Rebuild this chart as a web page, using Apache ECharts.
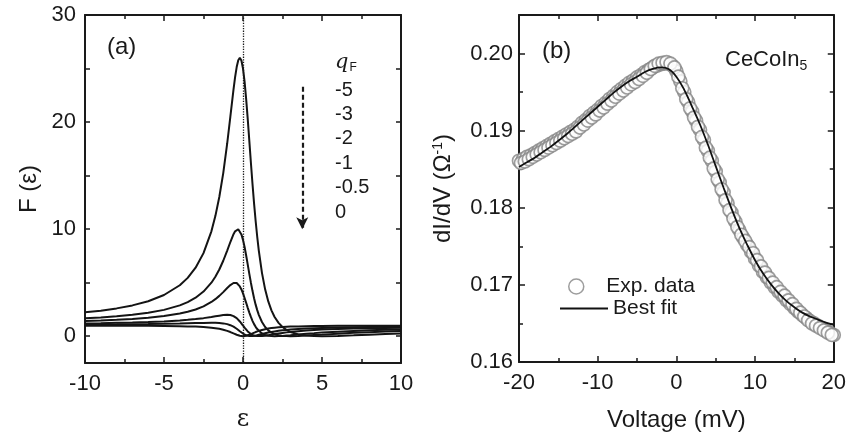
<!DOCTYPE html>
<html>
<head>
<meta charset="utf-8">
<script src="https://cdn.jsdelivr.net/npm/echarts@6/dist/echarts.min.js"></script>
<style>
    html, body { margin: 0; padding: 0; background: #fff; }
    #main { width: 849px; height: 437px; }
</style>
</head>
<body>
<div id="main"></div>
<script>
// (a) Fano line shapes F(eps) for several q_F
let epsValues = [-10, -9, -8, -7, -6, -5, -4, -3.5, -3, -2.5, -2, -1.75, -1.5, -1.25, -1, -0.8, -0.6, -0.5, -0.4,
    -0.3, -0.2, -0.1, 0, 0.1, 0.2, 0.3, 0.4, 0.5, 0.6, 0.7, 0.8, 0.9, 1, 1.2, 1.4, 1.6, 1.8, 2, 2.25, 2.5, 2.75,
    3, 3.5, 4, 4.5, 5, 6, 7, 8, 9, 10];
let qValues = ["-5", "-3", "-2", "-1", "-0.5", "0"];
let fanoQm5 = [2.23, 2.39, 2.6, 2.88, 3.27, 3.85, 4.76, 5.45, 6.4, 7.76, 9.8, 11.22, 13.0, 15.24, 18, 20.51, 23.06,
    24.2, 25.14, 25.77, 26.0, 25.75, 25, 23.77, 22.15, 20.27, 18.24, 16.2, 14.24, 12.41, 10.76, 9.29, 8, 5.92, 4.38,
    3.25, 2.42, 1.8, 1.25, 0.86, 0.59, 0.4, 0.17, 0.06, 0.01, 0, 0.03, 0.08, 0.14, 0.2, 0.25];
let fanoQm3 = [1.67, 1.76, 1.86, 2.0, 2.19, 2.46, 2.88, 3.19, 3.6, 4.17, 5, 5.55, 6.23, 7.05, 8, 8.8, 9.53,
    9.8, 9.97, 9.99, 9.85, 9.51, 9, 8.33, 7.54, 6.69, 5.83, 5, 4.24, 3.55, 2.95, 2.44, 2, 1.33, 0.86,
    0.55, 0.34, 0.2, 0.09, 0.03, 0.01, 0, 0.02, 0.06, 0.11, 0.15, 0.24, 0.32, 0.38, 0.44, 0.49];
let fanoQm2 = [1.43, 1.48, 1.54, 1.62, 1.73, 1.88, 2.12, 2.28, 2.5, 2.79, 3.2, 3.46, 3.77, 4.12, 4.5, 4.78, 4.97,
    5, 4.97, 4.85, 4.65, 4.37, 4, 3.57, 3.12, 2.65, 2.21, 1.8, 1.44, 1.13, 0.88, 0.67, 0.5, 0.26, 0.12,
    0.04, 0.01, 0, 0.01, 0.03, 0.07, 0.1, 0.17, 0.24, 0.29, 0.35, 0.43, 0.5, 0.55, 0.6, 0.63];
let fanoQm1 = [1.2, 1.22, 1.25, 1.28, 1.32, 1.38, 1.47, 1.53, 1.6, 1.69, 1.8, 1.86, 1.92, 1.98, 2, 1.98, 1.88,
    1.8, 1.69, 1.55, 1.38, 1.2, 1, 0.8, 0.62, 0.45, 0.31, 0.2, 0.12, 0.06, 0.02, 0.01, 0, 0.02, 0.05,
    0.1, 0.15, 0.2, 0.26, 0.31, 0.36, 0.4, 0.47, 0.53, 0.58, 0.62, 0.68, 0.72, 0.75, 0.78, 0.8];
let fanoQm05 = [1.09, 1.1, 1.11, 1.13, 1.14, 1.16, 1.19, 1.21, 1.23, 1.24, 1.25, 1.25, 1.23, 1.2, 1.13, 1.03, 0.89,
    0.8, 0.7, 0.59, 0.47, 0.36, 0.25, 0.16, 0.09, 0.04, 0.01, 0, 0.01, 0.03, 0.05, 0.09, 0.13, 0.2, 0.27,
    0.34, 0.4, 0.45, 0.51, 0.55, 0.59, 0.63, 0.68, 0.72, 0.75, 0.78, 0.82, 0.85, 0.87, 0.88, 0.89];
let fanoQ0 = [0.99, 0.99, 0.98, 0.98, 0.97, 0.96, 0.94, 0.92, 0.9, 0.86, 0.8, 0.75, 0.69, 0.61, 0.5, 0.39, 0.26,
    0.2, 0.14, 0.08, 0.04, 0.01, 0, 0.01, 0.04, 0.08, 0.14, 0.2, 0.26, 0.33, 0.39, 0.45, 0.5, 0.59, 0.66,
    0.72, 0.76, 0.8, 0.84, 0.86, 0.88, 0.9, 0.92, 0.94, 0.95, 0.96, 0.97, 0.98, 0.98, 0.99, 0.99];
let fanoTicks = [0, 5, 10, 15, 20, 25, 30];
let fanoLabels = [0, 10, 20, 30];

// (b) CeCoIn5 conductance, measured (two sweeps) and fitted
let fitVoltage = [-20, -19, -18, -17, -16, -15, -14, -13, -12, -11, -10, -9, -8, -7, -6, -5, -4, -3, -2, -1, 0,
    1, 2, 3, 4, 5, 6, 7, 8, 9, 10, 11, 12, 13, 14, 15, 16, 17, 18, 19, 20];
let fitValues = [0.1853, 0.1859, 0.1865, 0.1872, 0.1879, 0.1887, 0.1895, 0.1904, 0.1913, 0.1922, 0.1931, 0.1940,
    0.1949, 0.1957, 0.1964, 0.1970, 0.1976, 0.1980, 0.1982, 0.1980, 0.1970, 0.1953, 0.1931, 0.1908, 0.1882, 0.1854,
    0.1826, 0.1799, 0.1774, 0.1752, 0.1732, 0.1715, 0.1701, 0.1689, 0.1679, 0.1671, 0.1664, 0.1659, 0.1655, 0.1651, 0.1648];
let expVoltage = [-20, -19.5, -19, -18.5, -18, -17.5, -17, -16.5, -16, -15.5, -15, -14.5, -14, -13.5, -13, -12.5,
    -12, -11.5, -11, -10.5, -10, -9.5, -9, -8.5, -8, -7.5, -7, -6.5, -6, -5.5, -5, -4.5, -4, -3.5, -3, -2.5, -2, -1.5,
    -1, -0.5, 0, 0.5, 1, 1.5, 2, 2.5, 3, 3.5, 4, 4.5, 5, 5.5, 6, 6.5, 7, 7.5, 8, 8.5, 9, 9.5, 10, 10.5, 11, 11.5,
    12, 12.5, 13, 13.5, 14, 14.5, 15, 15.5, 16, 16.5, 17, 17.5, 18, 18.5, 19, 19.5, 20];
let expValues = [0.1861, 0.1863, 0.1866, 0.1868, 0.1871, 0.1874, 0.1877, 0.1880, 0.1883, 0.1886, 0.1889, 0.1892,
    0.1895, 0.1898, 0.1901, 0.1905, 0.1910, 0.1914, 0.1919, 0.1923, 0.1927, 0.1932, 0.1936, 0.1941, 0.1945, 0.1950,
    0.1954, 0.1958, 0.1962, 0.1965, 0.1969, 0.1972, 0.1976, 0.1979, 0.1982, 0.1984, 0.1986, 0.1987, 0.1987, 0.1984,
    0.1977, 0.1964, 0.1950, 0.1937, 0.1925, 0.1913, 0.1901, 0.1888, 0.1874, 0.1861, 0.1847, 0.1833, 0.1820, 0.1806,
    0.1794, 0.1782, 0.1771, 0.1761, 0.1752, 0.1743, 0.1734, 0.1725, 0.1717, 0.1710, 0.1703, 0.1697, 0.1691, 0.1686,
    0.1680, 0.1675, 0.1670, 0.1665, 0.1661, 0.1657, 0.1653, 0.1650, 0.1647, 0.1644, 0.1641, 0.1638, 0.1635];
let expVoltage2 = [-19.75, -19.25, -18.75, -18.25, -17.75, -17.25, -16.75, -16.25, -15.75, -15.25, -14.75, -14.25,
    -13.75, -13.25, -12.75, -12.25, -11.75, -11.25, -10.75, -10.25, -9.75, -9.25, -8.75, -8.25, -7.75, -7.25, -6.75,
    -6.25, -5.75, -5.25, -4.75, -4.25, -3.75, -3.25, -2.75, -2.25, -1.75, -1.25, -0.75, -0.25, 0.25, 0.75, 1.25,
    1.75, 2.25, 2.75, 3.25, 3.75, 4.25, 4.75, 5.25, 5.75, 6.25, 6.75, 7.25, 7.75, 8.25, 8.75, 9.25, 9.75, 10.25,
    10.75, 11.25, 11.75, 12.25, 12.75, 13.25, 13.75, 14.25, 14.75, 15.25, 15.75, 16.25, 16.75, 17.25, 17.75, 18.25,
    18.75, 19.25, 19.75];
let expValues2 = [0.1858, 0.1860, 0.1863, 0.1866, 0.1869, 0.1872, 0.1875, 0.1878, 0.1881, 0.1884, 0.1887, 0.1890,
    0.1893, 0.1896, 0.1899, 0.1904, 0.1908, 0.1913, 0.1917, 0.1921, 0.1926, 0.1930, 0.1935, 0.1939, 0.1944, 0.1948,
    0.1952, 0.1956, 0.1960, 0.1963, 0.1967, 0.1971, 0.1975, 0.1980, 0.1984, 0.1987, 0.1988, 0.1989, 0.1987, 0.1982,
    0.1970, 0.1955, 0.1941, 0.1929, 0.1917, 0.1905, 0.1892, 0.1878, 0.1865, 0.1851, 0.1837, 0.1824, 0.1810, 0.1797,
    0.1786, 0.1775, 0.1765, 0.1757, 0.1749, 0.1741, 0.1732, 0.1724, 0.1716, 0.1709, 0.1703, 0.1697, 0.1691, 0.1686,
    0.1680, 0.1675, 0.1669, 0.1664, 0.1659, 0.1654, 0.1650, 0.1647, 0.1644, 0.1641, 0.1638, 0.1635];

let font = "Liberation Sans, Arial, sans-serif";
let ink = '#1a1a1a';
let chart = echarts.init(document.getElementById('main'), null, { renderer: 'canvas' });

function pairs(xs, ys) {
    return xs.map((x, i) => [x, ys[i]]);
}

// frame axis helper: every side gets inward ticks
function frameAxis(extra) {
    let base = {
        type: 'value',
        axisLine: { show: true, onZero: false, lineStyle: { color: ink, width: 2 } },
        axisTick: { show: true, inside: true, length: 6, lineStyle: { color: ink, width: 1.5 } },
        minorTick: { show: true, splitNumber: 2, length: 4, lineStyle: { color: ink, width: 1.5 } },
        splitLine: { show: false },
        axisLabel: { show: false },
    };
    return Object.assign(base, extra);
}

let tickLabel = { show: true, color: ink, fontFamily: font, fontSize: 22 };

let fanoSets = [fanoQm5, fanoQm3, fanoQm2, fanoQm1, fanoQm05, fanoQ0];
let fanoSeries = fanoSets.map((vals, i) => ({
    name: 'q' + qValues[i],
    type: 'line',
    xAxisIndex: 0,
    yAxisIndex: 0,
    data: pairs(epsValues, vals),
    symbol: 'none',
    lineStyle: { color: '#141414', width: 2 },
    z: 3
}));

// dotted eps = 0 line and the dashed arrow go on the first curve
fanoSeries[0].markLine = {
    silent: true,
    animation: false,
    label: { show: false },
    data: [
        [{ coord: [0, 30], symbol: 'none' }, { coord: [0, -2.5], symbol: 'none' }],
        [{ coord: [3.75, 23.3], symbol: 'none', lineStyle: { type: [5, 3], width: 2.2, color: ink } },
         { coord: [3.75, 10.0], symbol: 'arrow', symbolSize: [9, 12] }]
    ],
    lineStyle: { color: ink, type: 'dotted', width: 1.3 }
};

let qTexts = qValues.map((q, i) => ({
    type: 'text',
    left: 335,
    top: 80 + i * 24.4,
    style: { text: q, font: '20px ' + font, fill: ink }
}));

let yTicksA = {
    axisTick: { show: true, inside: true, length: 5, customValues: fanoTicks, lineStyle: { color: ink, width: 1.5 } },
    minorTick: { show: false }
};

let expStyle = { color: '#ffffff', borderColor: '#858585', borderWidth: 1.7 };

let option = {
    animation: false,
    backgroundColor: '#ffffff',
    grid: [
        { left: 85, top: 15, width: 316, height: 348, containLabel: false },
        { left: 519, top: 15, width: 318, height: 348, containLabel: false }
    ],
    xAxis: [
        frameAxis({
            gridIndex: 0, position: 'bottom', min: -10, max: 10, interval: 5,
            axisLabel: Object.assign({ margin: 10 }, tickLabel),
            name: 'ε', nameLocation: 'middle', nameGap: 45,
            nameTextStyle: { fontFamily: 'DejaVu Serif, Liberation Serif, serif', fontSize: 24, color: ink }
        }),
        frameAxis({ gridIndex: 0, position: 'top', min: -10, max: 10, interval: 5 }),
        frameAxis({
            gridIndex: 1, position: 'bottom', min: -20, max: 20, interval: 10,
            axisLabel: Object.assign({ margin: 10 }, tickLabel),
            name: 'Voltage (mV)', nameLocation: 'middle', nameGap: 46,
            nameTextStyle: { fontFamily: font, fontSize: 24, color: ink }
        }),
        frameAxis({ gridIndex: 1, position: 'top', min: -20, max: 20, interval: 10 })
    ],
    yAxis: [
        frameAxis(Object.assign({
            gridIndex: 0, position: 'left', min: -2.5, max: 30,
            axisLabel: Object.assign({ margin: 9, customValues: fanoLabels }, tickLabel),
            name: 'F (ε)', nameLocation: 'middle', nameGap: 44,
            nameTextStyle: { fontFamily: font, fontSize: 24, color: ink }
        }, yTicksA)),
        frameAxis(Object.assign({ gridIndex: 0, position: 'right', min: -2.5, max: 30 }, yTicksA)),
        frameAxis({
            gridIndex: 1, position: 'left', min: 0.16, max: 0.205, interval: 0.01,
            axisLabel: Object.assign({ margin: 6, showMaxLabel: false, formatter: v => v.toFixed(2) }, tickLabel),
            name: '{n|dI/dV (Ω}{s|-1}{n|)}', nameLocation: 'middle', nameGap: 64,
            nameTextStyle: {
                color: ink,
                rich: {
                    n: { fontFamily: font, fontSize: 24, color: ink },
                    s: { fontFamily: font, fontSize: 14, color: ink, verticalAlign: 'top', padding: [0, 0, 10, 0] }
                }
            }
        }),
        frameAxis({ gridIndex: 1, position: 'right', min: 0.16, max: 0.205, interval: 0.01 })
    ],
    legend: [
        {
            data: [{ name: 'Exp. data', icon: 'circle' }],
            left: 563, top: 271,
            itemWidth: 32, itemHeight: 15,
            itemStyle: { color: '#ffffff', borderColor: '#858585', borderWidth: 1.5 },
            textStyle: { fontFamily: font, fontSize: 21, color: ink, padding: [0, 0, 0, 9] }
        },
        {
            data: [{ name: 'Best fit', icon: 'rect' }],
            left: 555, top: 293,
            itemWidth: 48, itemHeight: 2,
            itemStyle: { color: '#111111' },
            textStyle: { fontFamily: font, fontSize: 21, color: ink }
        }
    ],
    graphic: [
        { type: 'text', left: 107, top: 35, style: { text: '(a)', font: '24px ' + font, fill: ink } },
        { type: 'text', left: 542, top: 39, style: { text: '(b)', font: '24px ' + font, fill: ink } },
        {
            type: 'text', left: 725, top: 49,
            style: {
                text: '{m|CeCoIn}{s|5}',
                rich: {
                    m: { font: '22px ' + font, fill: ink },
                    s: { font: '14px ' + font, fill: ink, verticalAlign: 'bottom', padding: [12, 0, 0, 0] }
                }
            }
        },
        {
            type: 'text', left: 335, top: 52,
            style: {
                text: '{q|q}{f|F}',
                rich: {
                    q: { font: 'italic 21px DejaVu Serif, Liberation Serif, serif', fill: ink },
                    f: { font: '12px ' + font, fill: ink, padding: [10, 0, 0, 1] }
                }
            }
        }
    ].concat(qTexts),
    series: fanoSeries.concat([
        {
            name: 'Exp. data',
            type: 'scatter',
            xAxisIndex: 2,
            yAxisIndex: 2,
            data: pairs(expVoltage, expValues),
            symbol: 'circle',
            symbolSize: 13,
            itemStyle: expStyle,
            z: 2
        },
        {
            name: 'Exp. data',
            type: 'scatter',
            xAxisIndex: 2,
            yAxisIndex: 2,
            data: pairs(expVoltage2, expValues2),
            symbol: 'circle',
            symbolSize: 13,
            itemStyle: expStyle,
            z: 2
        },
        {
            name: 'Best fit',
            type: 'line',
            xAxisIndex: 2,
            yAxisIndex: 2,
            data: pairs(fitVoltage, fitValues),
            smooth: 0.4,
            symbol: 'none',
            lineStyle: { color: '#111111', width: 1.8 },
            itemStyle: { color: '#111111' },
            z: 4
        }
    ])
};

chart.setOption(option);
</script>
</body>
</html>
